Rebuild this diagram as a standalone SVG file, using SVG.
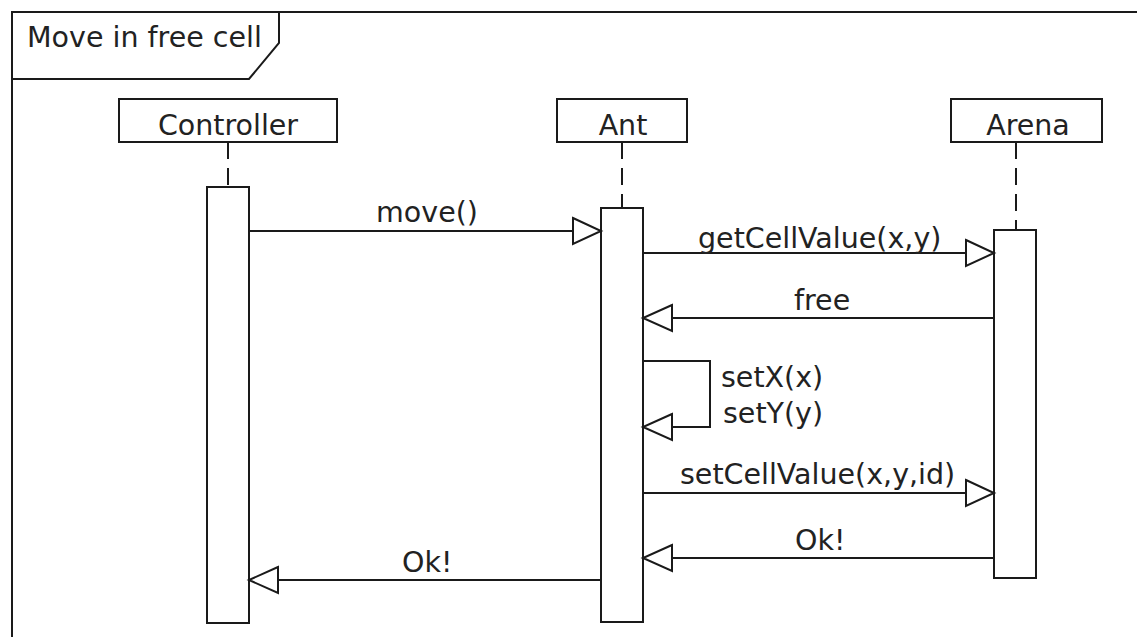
<svg xmlns="http://www.w3.org/2000/svg" width="1137" height="637" viewBox="0 0 1137 637">
  <style>
    .ln { fill: none; stroke: #1a1a1a; stroke-width: 2; }
    .box { fill: #ffffff; stroke: #1a1a1a; stroke-width: 2; }
    .life { fill: none; stroke: #1a1a1a; stroke-width: 2; stroke-dasharray: 17 9; }
    .head { fill: #ffffff; stroke: #1a1a1a; stroke-width: 2; stroke-linejoin: miter; }
    text { font-family: "DejaVu Sans", "Noto Sans", sans-serif; font-size: 28.5px; fill: #222222; }
    .c { text-anchor: middle; }
  </style>
  <rect width="1137" height="637" fill="#ffffff"/>

  <!-- interaction frame and its name tab -->
  <g id="frame">
    <path class="ln" d="M1150,12 H12 V660"/>
    <path class="ln" d="M12,79 H249 L279,43 V12"/>
    <text x="27" y="47">Move in free cell</text>
  </g>

  <!-- lifelines -->
  <g id="controller">
    <rect class="box" x="119" y="99" width="218" height="43"/>
    <text class="c" x="228" y="135">Controller</text>
    <line class="life" x1="228" y1="142" x2="228" y2="187"/>
    <rect class="box" x="207" y="187" width="42" height="436"/>
  </g>
  <g id="ant">
    <rect class="box" x="557" y="99" width="130" height="43"/>
    <text class="c" x="623" y="135">Ant</text>
    <line class="life" x1="622" y1="142" x2="622" y2="208"/>
    <rect class="box" x="601" y="208" width="42" height="414"/>
  </g>
  <g id="arena">
    <rect class="box" x="951" y="99" width="151" height="43"/>
    <text class="c" x="1028" y="135">Arena</text>
    <line class="life" x1="1016" y1="142" x2="1016" y2="230"/>
    <rect class="box" x="994" y="230" width="42" height="348"/>
  </g>

  <!-- messages -->
  <g id="connectors">
    <!-- move() -->
    <path class="ln" d="M249,231 H573"/>
    <path class="head" d="M573,218 L601,231 L573,244 Z"/>
    <text class="c" x="427" y="222">move()</text>

    <!-- getCellValue(x,y) -->
    <path class="ln" d="M643,253 H966"/>
    <path class="head" d="M966,240 L994,253 L966,266 Z"/>
    <text x="698" y="248">getCellValue(x,y)</text>

    <!-- free -->
    <path class="ln" d="M994,318 H672"/>
    <path class="head" d="M672,305 L643,318 L672,331 Z"/>
    <text x="794" y="310">free</text>

    <!-- self call -->
    <path class="ln" d="M643,361 H710 V427 H672"/>
    <path class="head" d="M672,414 L643,427 L672,440 Z"/>
    <text x="721" y="387">setX(x)</text>
    <text x="723" y="423">setY(y)</text>

    <!-- setCellValue(x,y,id) -->
    <path class="ln" d="M643,493 H966"/>
    <path class="head" d="M966,480 L994,493 L966,506 Z"/>
    <text x="680" y="484">setCellValue(x,y,id)</text>

    <!-- Ok! from Arena -->
    <path class="ln" d="M994,558 H672"/>
    <path class="head" d="M672,545 L643,558 L672,571 Z"/>
    <text x="795" y="550">Ok!</text>

    <!-- Ok! to Controller -->
    <path class="ln" d="M601,580 H278"/>
    <path class="head" d="M278,567 L249,580 L278,593 Z"/>
    <text x="402" y="572">Ok!</text>
  </g>
</svg>
